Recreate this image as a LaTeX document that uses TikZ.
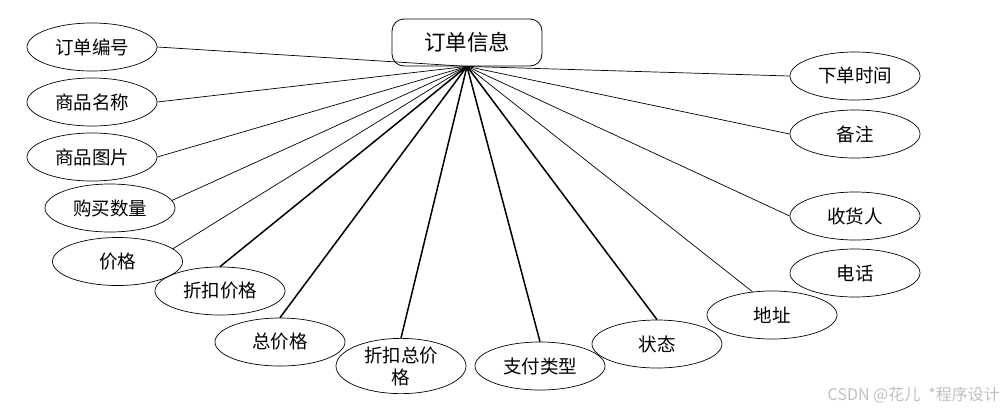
\documentclass[tikz,border=0pt]{standalone}
\usepackage{fontspec}
\setmainfont{Noto Sans CJK SC}
\usetikzlibrary{shapes.geometric}
\begin{document}
\begin{tikzpicture}[x=1pt,y=-1pt,
  attr/.style={draw, ellipse, line width=0.7pt, minimum width=130pt, minimum height=48pt, inner sep=0pt, font=\fontsize{18.5}{22}\selectfont, align=center},
  rootbox/.style={draw, rounded corners=12pt, line width=0.8pt, minimum width=150pt, minimum height=47pt, inner sep=0pt, font=\fontsize{21.5}{24}\selectfont},
  thin link/.style={line width=0.7pt},
  thick link/.style={line width=1.5pt}]
\useasboundingbox (0,0) rectangle (1007,413);
\node[rootbox] (root) at (467,42.5) {订单信息};
\coordinate (hub) at (root.south);
\node[attr] (e1) at (92,47) {订单编号};
\node[attr] (e2) at (92,102) {商品名称};
\node[attr] (e3) at (92,157) {商品图片};
\node[attr] (e4) at (110,208) {购买数量};
\node[attr] (e5) at (117.5,261.5) {价格};
\node[attr] (e6) at (220,291) {折扣价格};
\node[attr] (e7) at (280,342) {总价格};
\node[attr] (e8) at (401,366) {折扣总价\\格};
\node[attr] (e9) at (540,366) {支付类型};
\node[attr] (e10) at (657,344) {状态};
\node[attr] (e11) at (772,315) {地址};
\node[attr] (e12) at (855,273) {电话};
\node[attr] (e13) at (855,216) {收货人};
\node[attr] (e14) at (855,134) {备注};
\node[attr] (e15) at (855,76) {下单时间};
\draw[thin link] (hub) -- (e1.east);
\draw[thin link] (hub) -- (e2.east);
\draw[thin link] (hub) -- (e3.east);
\draw[thin link] (hub) -- (e4.7);
\draw[thin link] (hub) -- (e5.13);
\draw[thick link] (hub) -- (e6.north);
\draw[thick link] (hub) -- (e7.north);
\draw[thick link] (hub) -- (e8.north);
\draw[thick link] (hub) -- (e9.north);
\draw[thick link] (hub) -- (e10.north);
\draw[thin link] (hub) -- (e11.130);
\draw[thin link] (hub) -- (e13.west);
\draw[thin link] (hub) -- (e14.west);
\draw[thin link] (hub) -- (e15.west);
\node[text=black!25, font=\fontsize{16}{18}\selectfont, anchor=east, inner sep=0pt] (wm) at (1000,395) {CSDN @花儿\hspace{8pt}*程序设计};
\end{tikzpicture}
\end{document}
